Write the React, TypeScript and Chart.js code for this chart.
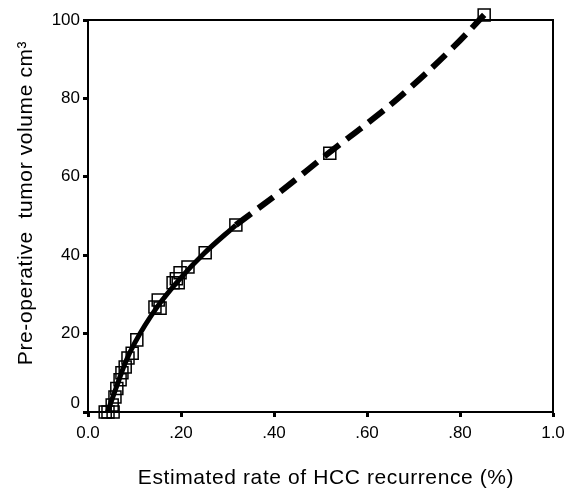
import React, { useEffect, useRef } from "react";
import { Chart, registerables } from "chart.js";

Chart.register(...registerables);

// Observed patients: estimated recurrence rate (fraction) vs. tumor volume (cm3)
const pointRates = [
  0.037, 0.043, 0.054, 0.052, 0.058, 0.062, 0.069, 0.073, 0.08, 0.086, 0.095, 0.105,
  0.144, 0.151, 0.155, 0.183, 0.19, 0.194, 0.198, 0.215, 0.252, 0.318, 0.52, 0.852,
];
const pointVolumes = [
  0, 0, 0, 1.8, 3.8, 6, 8.2, 10, 11.5, 13.8, 15, 18.4,
  26.8, 28.6, 26.5, 33, 34, 33, 35.5, 37, 40.6, 47.7, 66, 101.3,
];

// Fitted curve, solid part (within observed data range)
const solidRates = [0.042, 0.06, 0.08, 0.1, 0.15, 0.2, 0.25, 0.318];
const solidVolumes = [0, 6, 12.5, 17.5, 27, 34.3, 40.5, 47.7];

// Fitted curve, dashed (extrapolated) part
const dashRates = [0.318, 0.42, 0.52, 0.61, 0.686, 0.785, 0.852];
const dashVolumes = [47.7, 56.8, 66.3, 74.5, 82, 93, 101.3];

const xTickValues = [0, 0.2, 0.4, 0.6, 0.8, 1.0];
const xTickLabels = ["0.0", ".20", ".40", ".60", ".80", "1.0"];
const yTickValues = [0, 20, 40, 60, 80, 100];

const xTitle = "Estimated rate of HCC recurrence (%)";
const yTitle = "Pre-operative  tumor volume cm\u00B3";

const FONT = "'Liberation Sans', Arial, Helvetica, sans-serif";

const zip = (xs: number[], ys: number[]) => xs.map((x, i) => ({ x, y: ys[i] }));

export default function App() {
  const ref = useRef<HTMLCanvasElement | null>(null);

  useEffect(() => {
    document.body.style.margin = "0";
    const canvas = ref.current;
    if (!canvas) return;

    const framePlugin = {
      id: "frame",
      afterDraw(chart: any) {
        const { ctx, chartArea } = chart;
        ctx.save();
        ctx.strokeStyle = "#000";
        ctx.lineWidth = 2;
        ctx.strokeRect(chartArea.left, chartArea.top, chartArea.right - chartArea.left, chartArea.bottom - chartArea.top);
        ctx.fillStyle = "#000";
        // the zero label of the y axis sits slightly above the axis line
        ctx.font = `17px ${FONT}`;
        ctx.textAlign = "right";
        ctx.textBaseline = "middle";
        ctx.fillText(String(yTickValues[0]), chartArea.left - 8, chartArea.bottom - 9);
        // axis titles
        ctx.font = `21px ${FONT}`;
        (ctx as any).letterSpacing = "0.6px";
        ctx.textAlign = "center";
        ctx.fillText(xTitle, 326, 478);
        ctx.translate(26, 203);
        ctx.rotate(-Math.PI / 2);
        ctx.fillText(yTitle, 0, 0);
        ctx.restore();
      },
    };

    const chart = new Chart(canvas, {
      type: "scatter",
      data: {
        datasets: [
          {
            type: "line",
            data: zip(solidRates, solidVolumes),
            borderColor: "#000",
            borderWidth: 5,
            pointRadius: 0,
            cubicInterpolationMode: "monotone",
            fill: false,
            clip: false,
          } as any,
          {
            type: "line",
            data: zip(dashRates, dashVolumes),
            borderColor: "#000",
            borderWidth: 6,
            borderDash: [19, 9],
            pointRadius: 0,
            tension: 0.4,
            fill: false,
            clip: false,
          } as any,
          {
            data: zip(pointRates, pointVolumes),
            pointStyle: "rect",
            pointRadius: 8.5,
            pointBorderWidth: 1.5,
            borderColor: "#000",
            backgroundColor: "rgba(0,0,0,0)",
            pointBackgroundColor: "rgba(0,0,0,0)",
            showLine: false,
            clip: false,
          } as any,
        ],
      },
      options: {
        animation: false,
        responsive: false,
        maintainAspectRatio: false,
        layout: { padding: { top: 20, right: 0, left: 0, bottom: 0 } },
        plugins: { legend: { display: false }, tooltip: { enabled: false }, title: { display: false } },
        scales: {
          x: {
            type: "linear",
            min: 0,
            max: 1,
            afterFit: (s: any) => { s.height = 82; s.paddingRight = 11; s.paddingLeft = 0; },
            afterBuildTicks: (s: any) => { s.ticks = xTickValues.map((v) => ({ value: v })); },
            ticks: {
              color: "#000",
              font: { family: FONT, size: 17 },
              padding: 6,
              maxRotation: 0,
              autoSkip: false,
              callback: (v: any) => {
                const i = xTickValues.findIndex((t) => Math.abs(t - v) < 1e-9);
                return i >= 0 ? xTickLabels[i] : "";
              },
            },
            grid: { display: true, drawOnChartArea: false, tickLength: 5, tickWidth: 3, tickColor: "#000" },
            border: { display: true, color: "#000", width: 2 },
          },
          y: {
            type: "linear",
            min: 0,
            max: 100,
            afterFit: (s: any) => { s.width = 88; s.paddingTop = 0; s.paddingBottom = 0; },
            afterBuildTicks: (s: any) => { s.ticks = yTickValues.map((v) => ({ value: v })); },
            ticks: {
              color: "#000",
              font: { family: FONT, size: 17 },
              padding: 3,
              autoSkip: false,
              callback: (v: any) => (v === yTickValues[0] ? "" : String(v)),
            },
            grid: { display: true, drawOnChartArea: false, tickLength: 5, tickWidth: 3, tickColor: "#000" },
            border: { display: true, color: "#000", width: 2 },
          },
        },
      } as any,
      plugins: [framePlugin],
    });

    return () => chart.destroy();
  }, []);

  return (
    <div style={{ position: "absolute", left: 0, top: 0, width: 564, height: 494, background: "#fff" }}>
      <canvas ref={ref} width={564} height={494} style={{ width: 564, height: 494, display: "block" }} />
    </div>
  );
}
